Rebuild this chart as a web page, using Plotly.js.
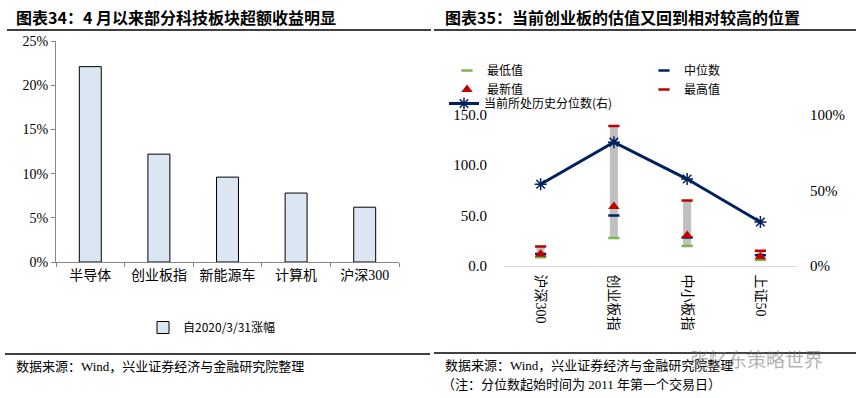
<!DOCTYPE html>
<html><head><meta charset="utf-8">
<script src="https://cdn.plot.ly/plotly-3.0.1.min.js"></script>
<style>html,body{margin:0;padding:0;background:#fff}#chart{width:862px;height:398px}</style>
</head><body><div id="chart"></div>
<script>
// Left chart data
const barCategories = ['半导体', '创业板指', '新能源车', '计算机', '沪深300'];
const barValues = [0.221, 0.122, 0.096, 0.078, 0.062];
const barSeriesName = '自2020/3/31涨幅';

// Right chart data
const valCategories = ['沪深300', '创业板指', '中小板指', '上证50'];
const minValues = [8.5, 27.5, 19.5, 6.0];
const medianValues = [11.7, 50.0, 28.0, 10.5];
const latestValues = [11.5, 59.0, 30.0, 8.8];
const maxValues = [19.0, 139.0, 65.0, 15.0];
const percentileValues = [0.54, 0.82, 0.575, 0.29];

const W = 862, H = 398;
const px = v => v / W;
const py = v => 1 - v / H;
const serif = '"Liberation Serif", "Noto Sans CJK SC", serif';
const cjk = '"Noto Sans CJK SC", sans-serif';
const navy = '#002060', red = '#c00000', green = '#7ab648';

const traces = [
  {type: 'bar', x: barCategories, y: barValues, name: barSeriesName, xaxis: 'x', yaxis: 'y',
   width: 0.32, marker: {color: '#dce6f2', line: {color: '#000', width: 1}}, legend: 'legend', hoverinfo: 'skip'},
  {type: 'bar', x: valCategories, y: maxValues.map((v, i) => v - minValues[i]), base: minValues,
   xaxis: 'x2', yaxis: 'y2', width: 0.11, marker: {color: '#c0c0c0'}, showlegend: false, hoverinfo: 'skip'},
  {type: 'scatter', mode: 'markers', x: valCategories, y: minValues, name: '最低值', xaxis: 'x2', yaxis: 'y2',
   marker: {symbol: 'line-ew-open', size: 8, color: green, line: {color: green, width: 2.5}}, legend: 'legend4'},
  {type: 'scatter', mode: 'markers', x: valCategories, y: medianValues, name: '中位数', xaxis: 'x2', yaxis: 'y2',
   marker: {symbol: 'line-ew-open', size: 8, color: navy, line: {color: navy, width: 2.5}}, legend: 'legend2'},
  {type: 'scatter', mode: 'markers', x: valCategories, y: latestValues, name: '最新值', xaxis: 'x2', yaxis: 'y2',
   marker: {symbol: 'triangle-up', size: 10, color: red}, legend: 'legend4'},
  {type: 'scatter', mode: 'markers', x: valCategories, y: maxValues, name: '最高值', xaxis: 'x2', yaxis: 'y2',
   marker: {symbol: 'line-ew-open', size: 8, color: red, line: {color: red, width: 2.5}}, legend: 'legend2'},
  {type: 'scatter', mode: 'lines+markers', x: valCategories, y: percentileValues, name: '当前所处历史分位数(右)',
   xaxis: 'x2', yaxis: 'y3', line: {color: navy, width: 3},
   marker: {symbol: 'asterisk-open', size: 10, color: navy, line: {color: navy, width: 1.5}}, legend: 'legend3'}
];

const legendBase = {bgcolor: 'rgba(0,0,0,0)', borderwidth: 0, font: {family: cjk, size: 12, color: '#000'},
  xanchor: 'left', yanchor: 'top', orientation: 'v', tracegroupgap: 0};

const layout = {
  width: W, height: H, margin: {l: 0, r: 0, t: 0, b: 0},
  paper_bgcolor: '#fff', plot_bgcolor: 'rgba(0,0,0,0)',
  font: {family: serif, color: '#000'},
  xaxis: {domain: [px(56), px(399)], anchor: 'y', type: 'category', showline: true, linecolor: '#868686',
    ticks: 'outside', tickson: 'boundaries', ticklen: 4, tickcolor: '#868686', showgrid: false,
    tickfont: {family: serif, size: 14}},
  yaxis: {domain: [py(262), py(41)], anchor: 'x', range: [0, 0.25], dtick: 0.05, tickformat: '.0%',
    showline: true, linecolor: '#868686', ticks: 'outside', ticklen: 4, tickcolor: '#868686',
    showgrid: false, zeroline: false, tickfont: {family: serif, size: 14}},
  xaxis2: {domain: [px(504), px(797)], anchor: 'y2', type: 'category', showline: true, linecolor: '#d9d9d9',
    ticks: '', tickangle: 90, showgrid: false, ticklabelstandoff: 5, tickfont: {family: serif, size: 14}},
  yaxis2: {domain: [py(265.7), py(115)], anchor: 'x2', range: [0, 150], dtick: 50, tickformat: '.1f',
    showline: false, showgrid: false, zeroline: false, ticks: '', ticklabelstandoff: 16,
    tickfont: {family: serif, size: 15}},
  yaxis3: {overlaying: 'y2', side: 'right', anchor: 'x2', range: [0, 1], dtick: 0.5, tickformat: '.0%',
    showline: false, showgrid: false, zeroline: false, ticks: '', ticklabelstandoff: 12,
    tickfont: {family: serif, size: 15}},
  showlegend: true,
  legend: Object.assign({}, legendBase, {x: px(143), y: py(313)}),
  legend4: Object.assign({}, legendBase, {x: px(447), y: py(56)}),
  legend2: Object.assign({}, legendBase, {x: px(644), y: py(56)}),
  legend3: Object.assign({}, legendBase, {x: px(444), y: py(89)}),
  annotations: [
    {text: '<b>图表34：4 月以来部分科技板块超额收益明显</b>', xref: 'paper', yref: 'paper', x: px(14), y: py(17),
     xanchor: 'left', yanchor: 'middle', showarrow: false, font: {family: cjk, size: 16, color: '#000'}},
    {text: '<b>图表35：当前创业板的估值又回到相对较高的位置</b>', xref: 'paper', yref: 'paper', x: px(443), y: py(17),
     xanchor: 'left', yanchor: 'middle', showarrow: false, font: {family: cjk, size: 16, color: '#000'}},
    {text: '数据来源：Wind，兴业证券经济与金融研究院整理', xref: 'paper', yref: 'paper', x: px(14), y: py(366),
     xanchor: 'left', yanchor: 'middle', showarrow: false, font: {family: serif, size: 13, color: '#000'}},
    {text: '数据来源：Wind，兴业证券经济与金融研究院整理', xref: 'paper', yref: 'paper', x: px(443), y: py(365),
     xanchor: 'left', yanchor: 'middle', showarrow: false, font: {family: serif, size: 13, color: '#000'}},
    {text: '（注：分位数起始时间为 2011 年第一个交易日）', xref: 'paper', yref: 'paper', x: px(440), y: py(384),
     xanchor: 'left', yanchor: 'middle', showarrow: false, font: {family: serif, size: 13, color: '#000'}},
    {text: '张忆东策略世界', xref: 'paper', yref: 'paper', x: px(688), y: py(358),
     xanchor: 'left', yanchor: 'middle', showarrow: false, font: {family: cjk, size: 19, color: 'rgba(110,110,110,0.55)'}}
  ],
  shapes: [
    {type: 'line', xref: 'paper', yref: 'paper', x0: px(7), x1: px(431), y0: py(30), y1: py(30), line: {color: '#000', width: 1.5}},
    {type: 'line', xref: 'paper', yref: 'paper', x0: px(434), x1: px(856), y0: py(30), y1: py(30), line: {color: '#000', width: 1.5}},
    {type: 'line', xref: 'paper', yref: 'paper', x0: px(5), x1: px(430), y0: py(354), y1: py(354), line: {color: '#000', width: 1.5}},
    {type: 'line', xref: 'paper', yref: 'paper', x0: px(434), x1: px(856), y0: py(353), y1: py(353), line: {color: '#000', width: 1.5}}
  ]
};

Plotly.newPlot('chart', traces, layout, {displayModeBar: false, staticPlot: true});
</script>
</body></html>
